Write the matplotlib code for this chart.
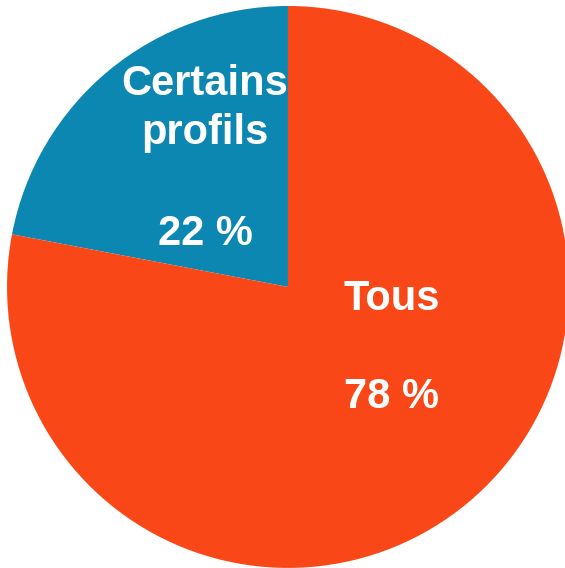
import matplotlib
matplotlib.use("Agg")
import matplotlib.pyplot as plt

categories = ["Certains\nprofils", "Tous"]
values = [22, 78]
pct_labels = ["22 %", "78 %"]
colors = ["#0C87B1", "#FA4717"]

fig = plt.figure(figsize=(5.65, 5.68), dpi=100)
ax = fig.add_axes([0, 0, 1, 1])
ax.pie(values, colors=colors, startangle=90, counterclock=True,
       radius=1.0, center=(0, 0), wedgeprops=dict(linewidth=0))
ax.set_xlim(-1.025, 0.986)
ax.set_ylim(-1.0, 1.021)
ax.set_aspect('equal', adjustable='box')
ax.axis('off')

font = dict(family=["Liberation Sans", "DejaVu Sans"], weight="bold",
            color="white", fontsize=30, ha="center", va="center")
# Certains profils label
ax.text(-0.295, 0.635, categories[0], linespacing=1.3, **font)
ax.text(-0.295, 0.187, pct_labels[0], **font)
# Tous label
ax.text(0.37, -0.043, categories[1], **font)
ax.text(0.37, -0.39, pct_labels[1], **font)

fig.savefig("out.png", dpi=100)
